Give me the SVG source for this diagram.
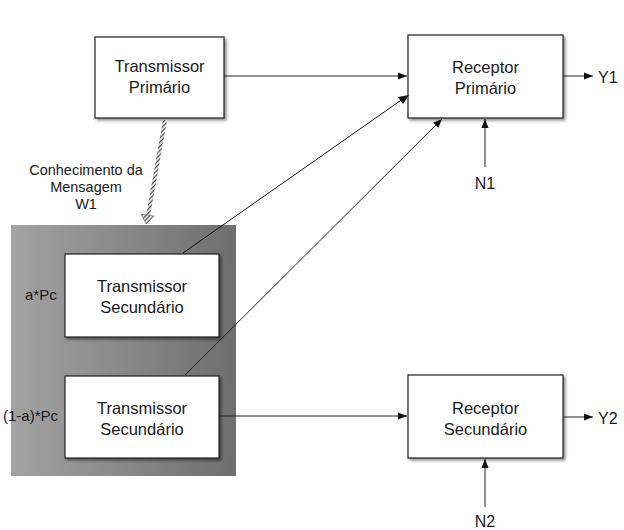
<svg xmlns="http://www.w3.org/2000/svg" width="624" height="530" viewBox="0 0 624 530">
  <style>
    .box { fill: #ffffff; stroke: #222222; stroke-width: 1.2; filter: url(#shadow); }
    .lbl { font-family: "Liberation Sans", Arial, sans-serif; font-size: 16.5px; fill: #1a1a1a; text-anchor: middle; }
    .side { font-family: "Liberation Sans", Arial, sans-serif; font-size: 15px; fill: #1a1a1a; }
    .io { font-family: "Liberation Sans", Arial, sans-serif; font-size: 16px; fill: #1a1a1a; }
    .note { font-family: "Liberation Sans", Arial, sans-serif; font-size: 14.5px; fill: #1a1a1a; text-anchor: middle; }
    .wire { fill: none; stroke: #222222; stroke-width: 1; }
  </style>
  <defs>
    <marker id="arr" viewBox="0 0 10 10" refX="10" refY="5" markerWidth="9" markerHeight="9" orient="auto" markerUnits="userSpaceOnUse">
      <path d="M0,1 L10,5 L0,9 Z" fill="#111111"/>
    </marker>
    <pattern id="hatch" width="3" height="3" patternUnits="userSpaceOnUse" patternTransform="rotate(45)">
      <rect width="3" height="3" fill="#dddddd"/>
      <line x1="0" y1="0" x2="0" y2="3" stroke="#333333" stroke-width="1.8"/>
    </pattern>
    <linearGradient id="panel" x1="0" y1="0" x2="1" y2="0">
      <stop offset="0" stop-color="#a3a3a3"/>
      <stop offset="1" stop-color="#6e6e6e"/>
    </linearGradient>
    <filter id="shadow" x="-10%" y="-10%" width="125%" height="130%">
      <feGaussianBlur in="SourceAlpha" stdDeviation="1.5"/>
      <feOffset dx="1.5" dy="2" result="b"/>
      <feComponentTransfer><feFuncA type="linear" slope="0.45"/></feComponentTransfer>
      <feMerge><feMergeNode/><feMergeNode in="SourceGraphic"/></feMerge>
    </filter>
  </defs>

  <rect width="624" height="530" fill="#ffffff"/>

  <!-- shaded panel grouping the two secondary transmitters -->
  <rect id="panel-bg" x="11" y="225" width="225" height="251" fill="url(#panel)"/>

  <g id="tx-primario">
    <rect class="box" x="95" y="37" width="129" height="81"/>
    <text class="lbl" x="159.5" y="72">Transmissor</text>
    <text class="lbl" x="159.5" y="93">Primário</text>
  </g>

  <g id="rx-primario">
    <rect class="box" x="408" y="35" width="155" height="83"/>
    <text class="lbl" x="485.5" y="73">Receptor</text>
    <text class="lbl" x="485.5" y="94">Primário</text>
  </g>

  <g id="rx-secundario">
    <rect class="box" x="408" y="375" width="155" height="83"/>
    <text class="lbl" x="485.5" y="414">Receptor</text>
    <text class="lbl" x="485.5" y="435">Secundário</text>
  </g>

  <g id="tx-secundario-1">
    <rect class="box" x="65" y="254" width="154" height="83"/>
    <text class="lbl" x="142" y="292">Transmissor</text>
    <text class="lbl" x="142" y="313">Secundário</text>
    <text class="side" x="25" y="300">a*Pc</text>
  </g>

  <g id="tx-secundario-2">
    <rect class="box" x="65" y="376" width="154" height="82"/>
    <text class="lbl" x="142" y="414">Transmissor</text>
    <text class="lbl" x="142" y="435">Secundário</text>
    <text class="side" x="3" y="421">(1-a)*Pc</text>
  </g>

  <g id="conhecimento">
    <text class="note" x="86" y="175">Conhecimento da</text>
    <text class="note" x="86" y="192">Mensagem</text>
    <text class="note" x="86" y="209">W1</text>
  </g>

  <g id="outputs">
    <text class="io" x="598" y="83">Y1</text>
    <text class="io" x="598" y="424">Y2</text>
    <text class="io" x="485" y="189" text-anchor="middle">N1</text>
    <text class="io" x="485" y="527" text-anchor="middle">N2</text>
  </g>

  <g id="connectors">
    <!-- primary link -->
    <line class="wire" x1="224" y1="76" x2="407" y2="76" marker-end="url(#arr)"/>
    <!-- message knowledge (hatched) -->
    <line x1="165" y1="120" x2="148" y2="216" stroke="url(#hatch)" stroke-width="4"/>
    <path d="M141,214 L154,216 L146,224 Z" fill="url(#hatch)" stroke="#555" stroke-width="0.5"/>
    <!-- secondary transmitters to primary receiver -->
    <line class="wire" x1="183" y1="253" x2="407" y2="96" stroke-width="2" style="stroke:#111"/>
    <path d="M409,95 L398,97 L403,104 Z" fill="#111"/>
    <line class="wire" x1="185" y1="375" x2="442" y2="119" stroke-width="0.8" marker-end="url(#arr)"/>
    <!-- secondary link -->
    <line class="wire" x1="219" y1="416" x2="407" y2="416" marker-end="url(#arr)"/>
    <!-- outputs -->
    <line class="wire" x1="563" y1="76" x2="593" y2="76" marker-end="url(#arr)"/>
    <line class="wire" x1="563" y1="417" x2="593" y2="417" marker-end="url(#arr)"/>
    <!-- noise inputs -->
    <line class="wire" x1="485" y1="167" x2="485" y2="119" marker-end="url(#arr)"/>
    <line class="wire" x1="485" y1="507" x2="485" y2="459" marker-end="url(#arr)"/>
  </g>
</svg>
